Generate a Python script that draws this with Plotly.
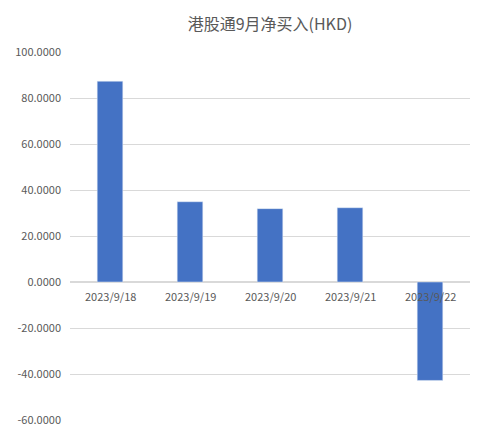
import plotly.graph_objects as go

dates = ["2023/9/18", "2023/9/19", "2023/9/20", "2023/9/21", "2023/9/22"]
net_buy = [87.3, 34.9, 31.9, 32.3, -42.8]
y_ticks = [-60, -40, -20, 0, 20, 40, 60, 80, 100]

fig = go.Figure()
fig.add_trace(go.Bar(x=dates, y=net_buy, marker_color="#4472C4", width=0.32))

# category labels sit on the zero line, like Excel
for d in dates:
    fig.add_annotation(x=d, y=0, text=d, showarrow=False, yanchor="top", yshift=-4,
                       font=dict(size=11, color="#595959"))

# page body has an 8px margin, so the figure is shrunk to fit the window
fig.update_layout(
    width=472, height=426,
    title=dict(text="港股通9月净买入(HKD)", x=0.5, xref="paper", y=0.975, xanchor="center",
               font=dict(size=16, color="#595959")),
    font=dict(family="Noto Sans CJK SC, Calibri, sans-serif", size=11, color="#595959"),
    paper_bgcolor="white", plot_bgcolor="white",
    margin=dict(l=57, r=10, t=44, b=7),
    showlegend=False,
    xaxis=dict(showticklabels=False, showgrid=False, zeroline=False),
    yaxis=dict(range=[-60, 100], tickvals=y_ticks,
               ticktext=[f"{v:.4f}" for v in y_ticks],
               gridcolor="#D9D9D9", zeroline=True, zerolinecolor="#D9D9D9",
               ticks="", ticklabelstandoff=8),
)

fig.write_html("out.html")
